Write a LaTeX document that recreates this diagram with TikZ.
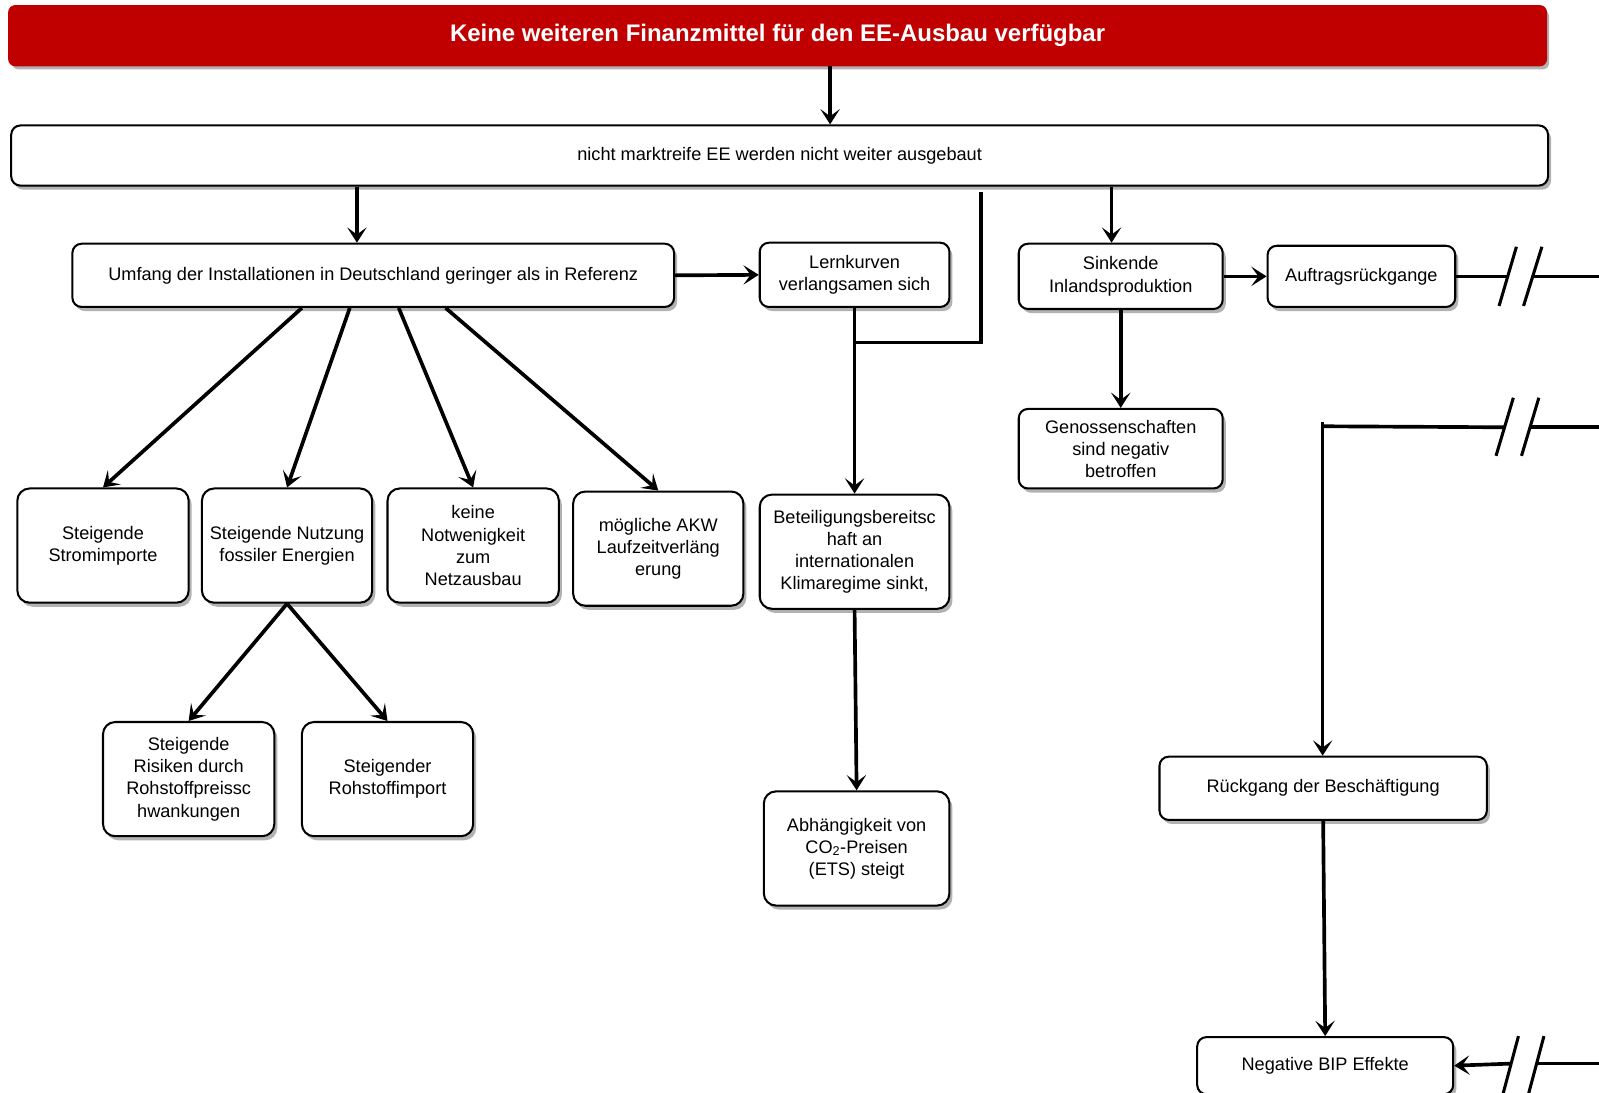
\documentclass[tikz,border=0pt]{standalone}
\usepackage{fontspec}
\setmainfont{Liberation Sans}
\usetikzlibrary{arrows.meta,shadows}
\newcommand\mybox[7][]{\node[box,#1,minimum width=#5pt,minimum height=#6pt] (#2) at (#3,#4) {#7};}
\begin{document}
\begin{tikzpicture}[x=1pt,y=-1pt,
  box/.style={draw=black, line width=2pt, rounded corners=12pt, fill=white,
    align=center, anchor=north west, inner sep=0pt,
    font=\fontsize{17.8}{21.7}\selectfont,
    drop shadow={shadow xshift=3pt,shadow yshift=-4pt,fill=black,opacity=0.3}},
  arr/.style={line width=3.6pt, -{Stealth[length=15pt,width=19pt,inset=7pt]}},
  ln/.style={line width=3.6pt},
  brk/.style={line width=3pt},
]
\useasboundingbox (0,0) rectangle (1568,1071);
\definecolor{banred}{HTML}{C00000}

% nodes
\mybox[fill=banred,draw=banred,rounded corners=6pt,text=white,font=\fontsize{23.5}{27}\selectfont\bfseries]{banner}{8}{5}{1507}{58}{Keine weiteren Finanzmittel für den EE-Ausbau verfügbar}
\mybox[rounded corners=9pt]{top}{10}{122}{1507}{59}{nicht marktreife EE werden nicht weiter ausgebaut}
\mybox[rounded corners=9pt]{umf}{70}{238}{590}{62}{Umfang der Installationen in Deutschland geringer als in Referenz}
\mybox[rounded corners=9pt]{lern}{744}{237}{186}{63}{Lernkurven\\verlangsamen sich}
\mybox[rounded corners=9pt]{sink}{998}{238}{200}{64}{Sinkende\\Inlandsproduktion}
\mybox[rounded corners=9pt]{auf}{1242}{240}{184}{60}{Auftragsrückgange}
\mybox[rounded corners=9pt]{gen}{998}{400}{200}{78}{Genossenschaften\\sind negativ\\betroffen}
\mybox{strom}{16}{478}{168}{112}{Steigende\\Stromimporte}
\mybox{nutz}{197}{478}{167}{112}{Steigende Nutzung\\fossiler Energien}
\mybox{keine}{379}{478}{168}{112}{keine\\Notwenigkeit\\zum\\Netzausbau}
\mybox{akw}{561}{481}{167}{112}{mögliche AKW\\Laufzeitverläng\\erung}
\mybox{bet}{744}{484}{186}{112}{Beteiligungsbereitsc\\haft an\\internationalen\\Klimaregime sinkt,}
\mybox{abh}{748}{775}{182}{112}{Abhängigkeit von\\CO\textsubscript{2}-Preisen\\(ETS) steigt}
\mybox{ris}{100}{707}{168}{112}{Steigende\\Risiken durch\\Rohstoffpreissc\\hwankungen}
\mybox{roh}{295}{707}{168}{112}{Steigender\\Rohstoffimport}
\mybox[rounded corners=9pt]{rueck}{1136}{741}{321}{62}{Rückgang der Beschäftigung}
\mybox[rounded corners=9pt]{bip}{1173}{1016}{251}{56}{Negative BIP Effekte}

% helper coordinates
\coordinate (x814) at (814,0);
\coordinate (x350) at (350,0);
\coordinate (x1090) at (1090,0);
\coordinate (u1) at (296,0);
\coordinate (u2) at (343,0);
\coordinate (u3) at (391,0);
\coordinate (u4) at (437,0);
\coordinate (fb) at (962,188);
\coordinate (jn) at (838,336);

% connectors
\draw[arr] (banner.south -| x814) -- (top.north -| x814);
\draw[arr] (top.south -| x350) -- (umf.north -| x350);
\draw[arr] (top.south -| x1090) -- (sink.north -| x1090);
\draw[arr] (umf.east) -- (lern.west);
\draw[arr] (sink.east) -- (auf.west);
\draw[arr] (sink.south) -- (gen.north);
\draw[arr] (lern.south) -- (bet.north);
\draw[ln] (fb) |- (jn);
\draw[arr] (bet.south) -- (abh.north);
\draw[arr] (umf.south -| u1) -- (strom.north);
\draw[arr] (umf.south -| u2) -- (nutz.north);
\draw[arr] (umf.south -| u3) -- (keine.north);
\draw[arr] (umf.south -| u4) -- (akw.north);
\draw[arr] (nutz.south) -- (ris.north);
\draw[arr] (nutz.south) -- (roh.north);
\draw[arr] (rueck.south) -- (bip.north);

% break 1 (Auftragsrueckgange)
\coordinate (b1a) at (1478,271);
\coordinate (b1b) at (1503,271);
\coordinate (b1e) at (1568,271);
\draw[ln] (auf.east) -- (b1a);
\draw[ln] (b1b) -- (b1e);
\draw[brk] (1470,300) -- (1487,242);
\draw[brk] (1494,300) -- (1512,242);

% break 2 (Beschaeftigung)
\coordinate (b2s) at (1297,414);
\coordinate (b2c) at (1297,418);
\coordinate (b2a) at (1476,419);
\coordinate (b2b) at (1500,419);
\coordinate (b2e) at (1568,419);
\draw[ln] (b2c) -- (b2a);
\draw[ln] (b2b) -- (b2e);
\draw[brk] (1467,447) -- (1484,390);
\draw[brk] (1492,447) -- (1509,390);
\draw[arr] (b2s) -- (rueck.north -| b2s);

% break 3 (BIP)
\coordinate (b3a) at (1481,1043);
\coordinate (b3b) at (1506,1043);
\coordinate (b3e) at (1568,1043);
\draw[ln] (b3e) -- (b3b);
\draw[arr] (b3a) -- (bip.east);
\draw[brk] (1473,1076) -- (1489,1016);
\draw[brk] (1498,1076) -- (1514,1016);
\end{tikzpicture}
\end{document}
